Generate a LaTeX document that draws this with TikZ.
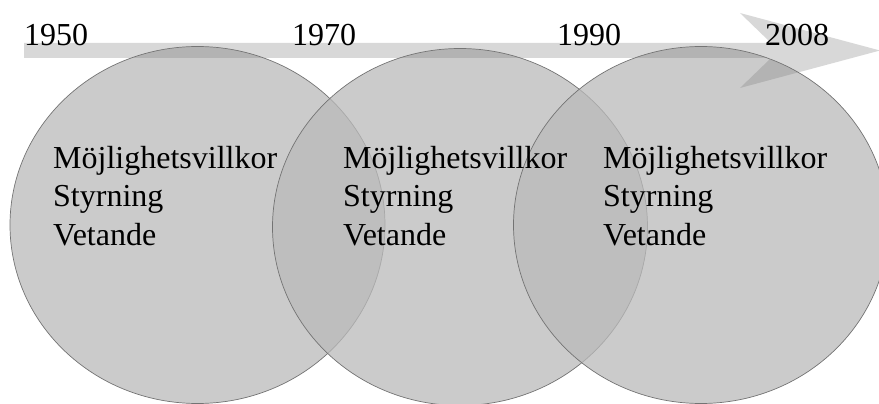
\documentclass[tikz,border=0pt]{standalone}
\usepackage{fontspec}
\setmainfont{Liberation Serif}
\usetikzlibrary{positioning,shapes.geometric}

\begin{document}
\begin{tikzpicture}
    [
    x=1pt, y=-1pt,
    epok/.style={ellipse, draw=black!55, line width=0.7pt, fill=black!27,
                 fill opacity=0.75, minimum width=375pt, minimum height=357pt},
    ar/.style={anchor=base west, inner sep=0pt, font=\fontsize{32}{38.5}\selectfont},
    falt/.style={ar, align=left},
    pil/.style={fill=black!52, fill opacity=0.29}
    ]
    \useasboundingbox (0,0) rectangle (879,404);

    % Perioder
    \node [epok] (c1950) at (197.5,225) {};
    \node [epok] (c1970) at (460,227) {};
    \node [epok] (c1990) at (701,225) {};

    % Tidslinje
    \fill [pil] (24,43) -- (771,43) -- (740,13) -- (880,50.5) -- (740,88)
        -- (771,58) -- (24,58) -- cycle;

    % Artal
    \node [ar] (y1950) at (24,46) {1950};
    \node [ar] (y1970) at (292,46) {1970};
    \node [ar] (y1990) at (557,46) {1990};
    \node [ar] (y2008) at (765,46) {2008};

    % Innehall i varje period
    \node [falt] (t1950) at (53,245) {Möjlighetsvillkor\\Styrning\\Vetande};
    \node [falt] (t1970) at (343,245) {Möjlighetsvillkor\\Styrning\\Vetande};
    \node [falt] (t1990) at (603,245) {Möjlighetsvillkor\\Styrning\\Vetande};
\end{tikzpicture}
\end{document}
